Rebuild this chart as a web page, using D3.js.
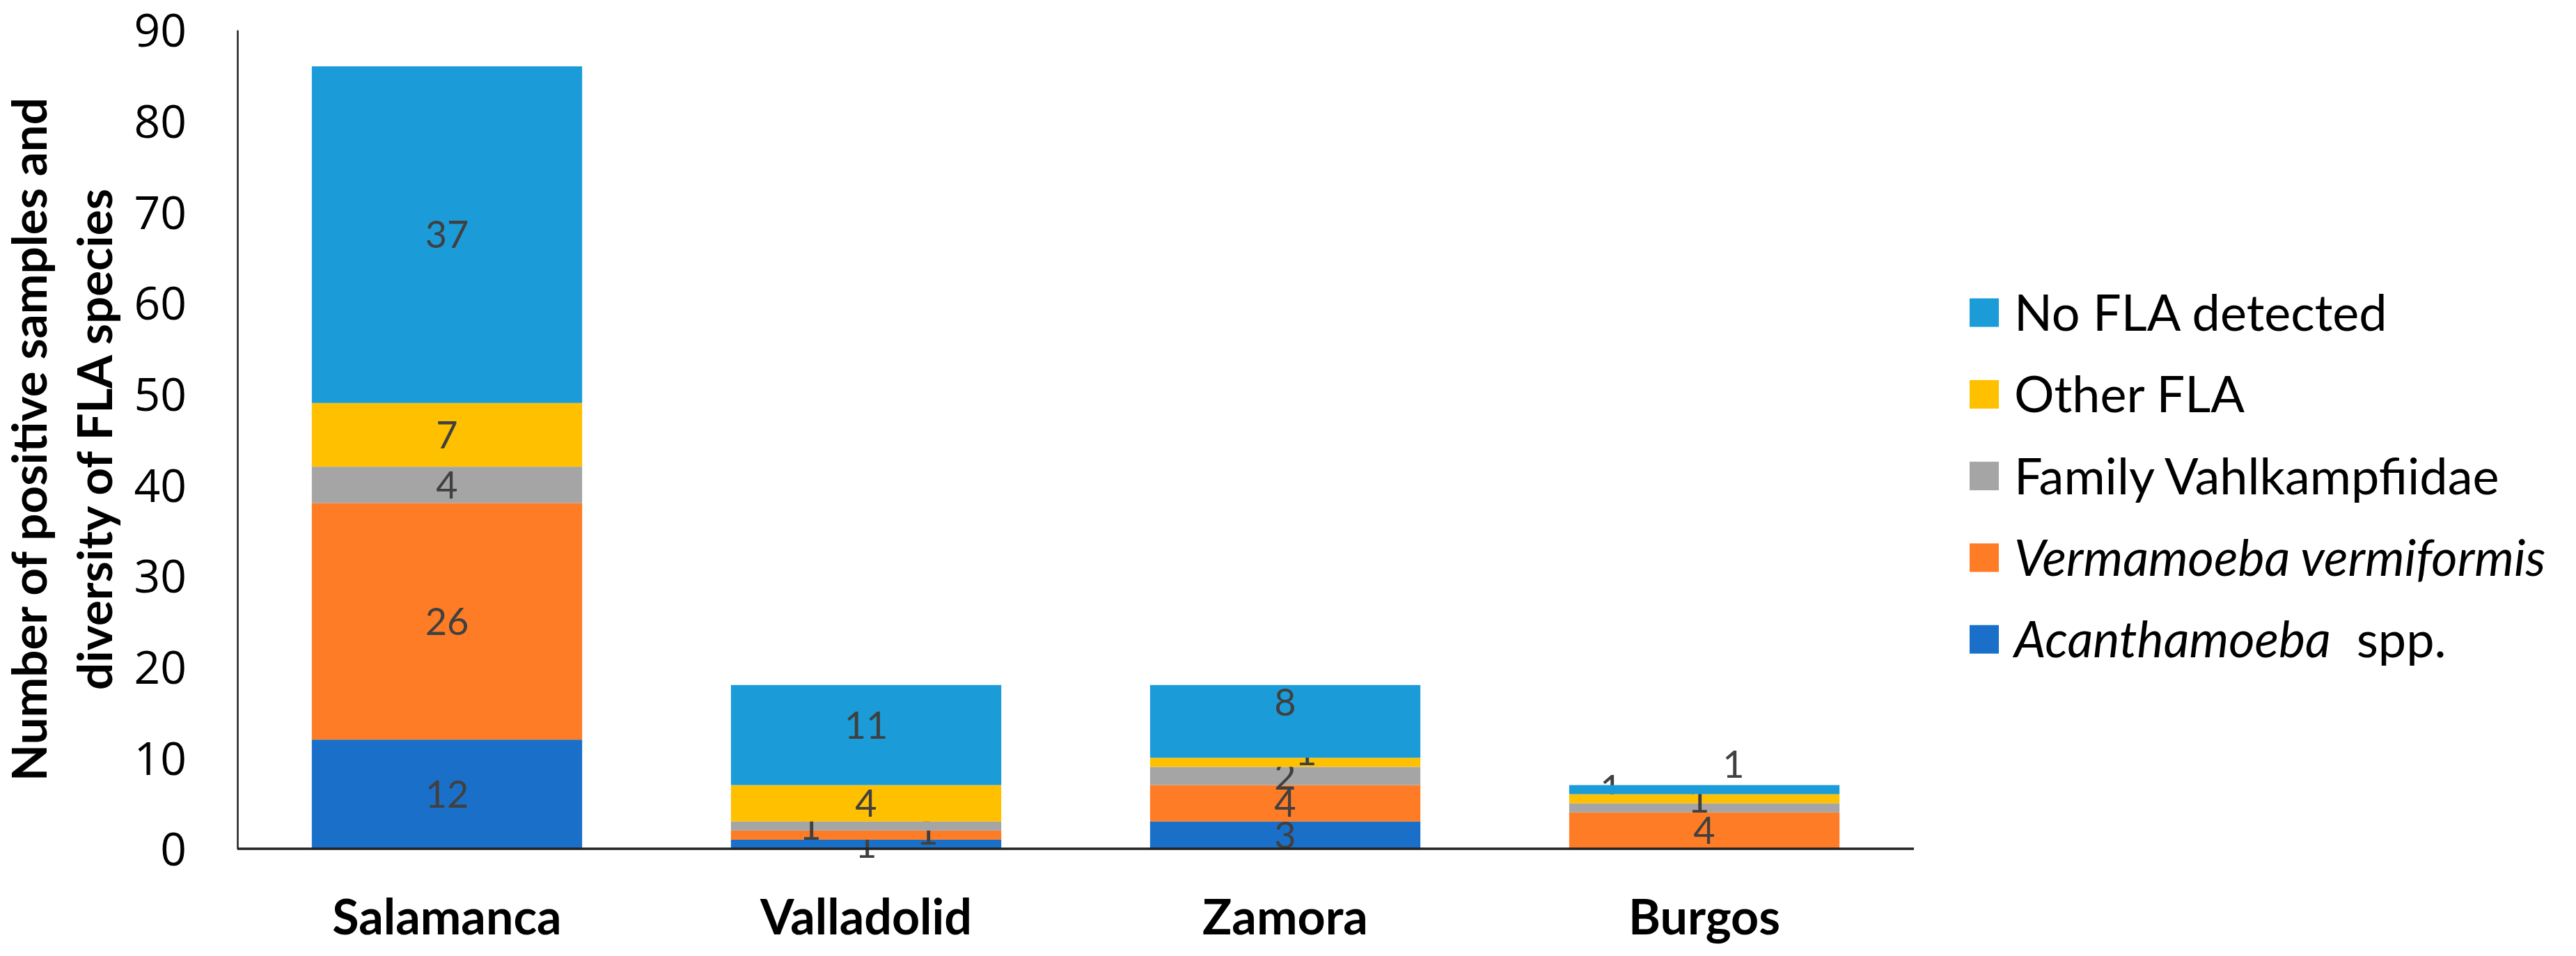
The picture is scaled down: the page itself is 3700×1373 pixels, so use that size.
<!DOCTYPE html>
<html>
<head>
<meta charset="utf-8">
<script src="https://cdn.jsdelivr.net/npm/d3@7"></script>
<style>
  body { margin: 0; background: #fff; }
  svg { display: block; }
  .tick-label { font-family: "Open Sans", sans-serif; font-size: 66px; fill: #000; }
  .cat-label { font-family: Lato, sans-serif; font-weight: bold; font-size: 70px; fill: #000; }
  .y-title { font-family: Lato, sans-serif; font-weight: bold; font-size: 69px; fill: #000; }
  .legend-text { font-family: Lato, sans-serif; font-size: 72px; fill: #000; }
  .bar-label { font-family: Lato, sans-serif; font-size: 54px; fill: #404040; }
</style>
</head>
<body>
<div id="chart"></div>
<script>
// Data
const regions = ["Salamanca", "Valladolid", "Zamora", "Burgos"];
const acanthamoeba = [12, 1, 3, 0];
const vermamoeba = [26, 1, 4, 4];
const vahlkampfiidae = [4, 1, 2, 1];
const otherFla = [7, 4, 1, 1];
const noFla = [37, 11, 8, 1];
const yTicks = [0, 10, 20, 30, 40, 50, 60, 70, 80, 90];

// stack order, bottom to top
const seriesKeys = ["acan", "verm", "vahl", "other", "none"];
const seriesColors = {
    acan: "#1a70c8",
    verm: "#fe7c26",
    vahl: "#a5a5a5",
    other: "#ffc000",
    none: "#1b9cd8"
};

// manual label placement, like the hand-moved labels of the original
const labelNudge = {
    "Valladolid|none": [0, -14],
    "Valladolid|vahl": [-80, 0],
    "Valladolid|verm": [88, -6],
    "Zamora|none": [0, -28],
    "Zamora|other": [30, -15],
    "Burgos|vahl": [-134, -28],
    "Burgos|other": [-8, 0],
    "Burgos|none": [42, -37]
};

let rows = regions.map((r, i) => ({
    region: r,
    acan: acanthamoeba[i],
    verm: vermamoeba[i],
    vahl: vahlkampfiidae[i],
    other: otherFla[i],
    none: noFla[i]
}));

let config = {
    width: 3700,
    height: 1373,
    plot: { left: 341, right: 2749, top: 43, bottom: 1219 }
};

let svg = d3.select("#chart").append("svg")
    .attr("width", config.width)
    .attr("height", config.height);

let x = d3.scaleBand()
    .domain(regions)
    .range([config.plot.left, config.plot.right])
    .paddingInner(0.355)
    .paddingOuter(0.1775);

let y = d3.scaleLinear()
    .domain([0, 90])
    .range([config.plot.bottom, config.plot.top]);

let stacked = d3.stack().keys(seriesKeys)(rows);

// Bars
let layers = svg.append("g").selectAll("g")
  .data(stacked)
  .join("g")
    .attr("fill", d => seriesColors[d.key]);

layers.selectAll("rect")
  .data(d => d)
  .join("rect")
    .attr("x", d => x(d.data.region))
    .attr("width", x.bandwidth())
    .attr("y", d => y(d[1]))
    .attr("height", d => y(d[0]) - y(d[1]));

// Y axis (line and labels, no ticks)
let yAxis = svg.append("g")
    .attr("transform", "translate(" + config.plot.left + ",0)")
    .call(d3.axisLeft(y).tickValues(yTicks).tickSize(0).tickPadding(73));
yAxis.select(".domain").attr("stroke", "#222").attr("stroke-width", 2.5);
yAxis.selectAll("text").attr("class", "tick-label").attr("font-size", null).attr("font-family", null)
    .attr("dy", "0.36em");

// X axis
let xAxis = svg.append("g")
    .attr("transform", "translate(0," + config.plot.bottom + ")")
    .call(d3.axisBottom(x).tickSize(0).tickPadding(0));
xAxis.select(".domain").attr("stroke", "#222").attr("stroke-width", 3.5)
    .attr("d", "M" + config.plot.left + ",0H" + config.plot.right);
xAxis.selectAll("text").attr("class", "cat-label").attr("font-size", null).attr("font-family", null)
    .attr("y", 98).attr("dy", "0.36em");

// Data labels
layers.each(function(layer) {
    d3.select(this).selectAll("text")
      .data(layer.filter(d => d[1] - d[0] > 0))
      .join("text")
        .attr("class", "bar-label")
        .attr("text-anchor", "middle")
        .attr("dy", "0.36em")
        .attr("x", d => {
            let n = labelNudge[d.data.region + "|" + layer.key];
            return x(d.data.region) + x.bandwidth() / 2 + (n ? n[0] : 0);
        })
        .attr("y", d => {
            let n = labelNudge[d.data.region + "|" + layer.key];
            return y((d[0] + d[1]) / 2) + (n ? n[1] : 0);
        })
        .text(d => d[1] - d[0]);
});

// Y title
let yTitle = svg.append("text")
    .attr("class", "y-title")
    .attr("text-anchor", "middle")
    .attr("transform", "translate(0," + ((config.plot.top + config.plot.bottom) / 2) + ") rotate(-90)");
yTitle.append("tspan").attr("x", 0).attr("y", 67).text("Number of positive samples and");
yTitle.append("tspan").attr("x", 0).attr("y", 161).text("diversity of FLA species");

// Legend, top to bottom
const legendRows = [
    { key: "none", parts: [["No FLA detected", "normal"]] },
    { key: "other", parts: [["Other FLA", "normal"]] },
    { key: "vahl", parts: [["Family Vahlkampfiidae", "normal"]] },
    { key: "verm", parts: [["Vermamoeba vermiformis", "italic"]] },
    { key: "acan", parts: [["Acanthamoeba", "italic"], ["\u00a0\u00a0spp.", "normal"]] }
];

let legend = svg.append("g").attr("transform", "translate(2829,449)");
let legendItem = legend.selectAll("g")
  .data(legendRows)
  .join("g")
    .attr("transform", (d, i) => "translate(0," + (i * 117.3) + ")");
legendItem.append("rect")
    .attr("x", 0).attr("y", -20.5)
    .attr("width", 42).attr("height", 41)
    .attr("fill", d => seriesColors[d.key]);
let legendText = legendItem.append("text")
    .attr("class", "legend-text")
    .attr("x", 64)
    .attr("dy", "0.36em");
legendText.selectAll("tspan")
  .data(d => d.parts)
  .join("tspan")
    .attr("font-style", d => d[1])
    .text(d => d[0]);
</script>
</body>
</html>
